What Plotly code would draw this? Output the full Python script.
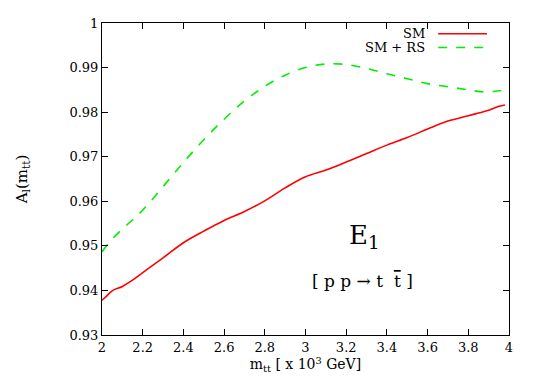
import plotly.graph_objects as go

# --- data ---
sm_x = [2.00, 2.02, 2.05, 2.10, 2.15, 2.20, 2.30, 2.40, 2.50, 2.60, 2.70, 2.80, 2.90,
        3.00, 3.10, 3.20, 3.30, 3.40, 3.50, 3.60, 3.70, 3.80, 3.85, 3.90, 3.95, 3.98]
sm_y = [0.9378, 0.9386, 0.9399, 0.9409, 0.9423, 0.9440, 0.9473, 0.9507, 0.9533, 0.9557,
        0.9577, 0.9601, 0.9630, 0.9655, 0.9670, 0.9688, 0.9707, 0.9726, 0.9743, 0.9762,
        0.9780, 0.9792, 0.9798, 0.9804, 0.9813, 0.9816]

rs_x = [2.00, 2.05, 2.10, 2.15, 2.20, 2.30, 2.40, 2.50, 2.60, 2.70, 2.80, 2.90, 3.00,
        3.10, 3.20, 3.30, 3.40, 3.50, 3.60, 3.70, 3.80, 3.88, 3.95, 4.00]
rs_y = [0.9487, 0.9515, 0.9538, 0.9558, 0.9580, 0.9633, 0.9687, 0.9738, 0.9784, 0.9825,
        0.9858, 0.9883, 0.9900, 0.9908, 0.9907, 0.9898, 0.9886, 0.9875, 0.9864, 0.9857,
        0.9850, 0.9845, 0.9848, 0.9851]

FONT = "DejaVu Serif"

fig = go.Figure()
fig.add_trace(go.Scatter(x=sm_x, y=sm_y, mode="lines", name="SM",
                         line=dict(color="#ff0000", width=1.6, shape="spline")))
fig.add_trace(go.Scatter(x=rs_x, y=rs_y, mode="lines", name="SM + RS",
                         line=dict(color="#00ee00", width=1.6, dash="dash", shape="spline")))

# gnuplot-style key: text on the left, line sample on the right
for label, yk, col, dash in [("SM", 0.9655, "#ff0000", "solid"),
                             ("SM + RS", 0.9216, "#00ee00", "dash")]:
    fig.add_annotation(x=0.799, y=yk, xref="paper", yref="paper", text=label,
                       showarrow=False, xanchor="right", yanchor="middle",
                       font=dict(family=FONT, size=13, color="black"))
    fig.add_shape(type="line", xref="paper", yref="paper", x0=0.826, x1=0.946,
                  y0=yk, y1=yk, line=dict(color=col, width=1.6, dash=dash))

fig.add_annotation(x=0.645, y=0.255, xref="paper", yref="paper", text="E<sub>1</sub>",
                   showarrow=False, font=dict(family=FONT, size=26, color="black"))
fig.add_annotation(x=0.639, y=0.135, xref="paper", yref="paper",
                   text="[ p p \u2192 t  <span style=\"text-decoration:overline\">t</span> ]",
                   showarrow=False, font=dict(family=FONT, size=17, color="black"))

# the page body adds an 8px offset, so margins are shifted to compensate
fig.update_layout(
    width=540, height=376,
    margin=dict(l=94, r=39, t=8, b=49),
    paper_bgcolor="white", plot_bgcolor="white",
    showlegend=False,
    font=dict(family=FONT, size=13, color="black"),
)
fig.update_xaxes(range=[2, 4], dtick=0.2, tick0=2, showgrid=False, zeroline=False,
                 showline=True, linecolor="black", linewidth=1, mirror="ticks",
                 ticks="inside", ticklen=6, tickcolor="black",
                 tickfont=dict(family=FONT, size=13, color="black"),
                 title=dict(text="m<sub>tt</sub> [ x 10<sup>3</sup> GeV]",
                            font=dict(family=FONT, size=14, color="black"), standoff=4))
fig.update_yaxes(range=[0.93, 1.0], dtick=0.01, tick0=0.93, showgrid=False, zeroline=False,
                 showline=True, linecolor="black", linewidth=1, mirror="ticks",
                 ticks="inside", ticklen=6, tickcolor="black",
                 tickfont=dict(family=FONT, size=13, color="black"),
                 title=dict(text="A<sub>l</sub>(m<sub>tt</sub>)",
                            font=dict(family=FONT, size=15, color="black"), standoff=38))

fig.write_html("out.html")
